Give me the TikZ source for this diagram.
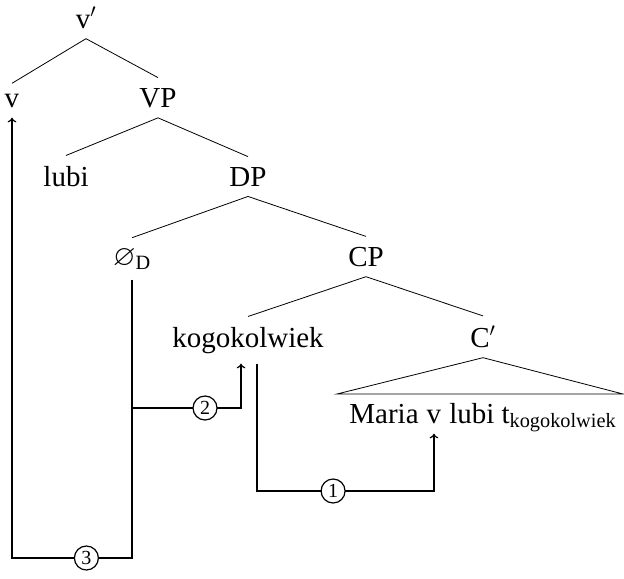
\documentclass[tikz,border=0pt]{standalone}
\usepackage{amsmath,amssymb}
\usepackage{fontspec}
\setmainfont{Liberation Serif}
\usetikzlibrary{positioning,arrows.meta}

\tikzset{every picture/.style={line width=0.6pt}}
\tikzset{
cat/.style={anchor=base, inner sep=7.5pt},
word/.style={anchor=base, inner xsep=0pt, inner ysep=7.5pt},
branch/.style={line width=0.6pt},
move/.style={line width=0.9pt, -{To[length=3.5pt,width=6.5pt]}},
num/.style={circle, draw, fill=white, line width=0.9pt, inner sep=0pt, minimum size=18pt, font=\fontsize{15}{15}\selectfont}}

\begin{document}
\fontsize{21.75}{26}\selectfont
\begin{tikzpicture}[x=0.75pt,y=0.75pt,yscale=-1,xscale=1]
\useasboundingbox (0,0) rectangle (624,578);

% Text Node
\node[cat] (vbar) at (86,28) {v$'$};
\node[cat] (v) at (12,107) {v};
\node[cat] (VP) at (158,107) {VP};
\node[cat] (lubi) at (66,186) {lubi};
\node[cat] (DP) at (248,186) {DP};
\node[cat] (nullD) at (132,265) {$\varnothing_{\text{D}}$};
\node[cat] (CP) at (366,266) {CP};
\node[cat] (kogo) at (248,347) {kogokolwiek};
\node[cat] (Cbar) at (483,347) {C$'$};

% Text Node: the clause under C'
\node[word, anchor=base west] (maria) at (349,423) {Maria};
\node[word, base right=0.25em of maria] (mv) {v};
\node[word, base right=0.25em of mv] (rest) {lubi t\textsubscript{kogokolwiek}};

% branches
\draw[branch] (vbar.south) -- (v.north);
\draw[branch] (vbar.south) -- (VP.north);
\draw[branch] (VP.south) -- (lubi.north);
\draw[branch] (VP.south) -- (DP.north);
\draw[branch] (DP.south) -- (nullD.north);
\draw[branch] (DP.south) -- (CP.north);
\draw[branch] (CP.south) -- (kogo.north);
\draw[branch] (CP.south) -- (Cbar.north);

%Shape: Triangle
\coordinate (baseL) at (337,394);
\coordinate (baseR) at (623,394);
\draw[branch] (baseL) -- (Cbar.south) -- (baseR) -- cycle;

% rows of the movement lines
\coordinate (row1) at (0,491);
\coordinate (row2) at (0,408);
\coordinate (row3) at (0,558);
\coordinate (k1) at ([xshift=6.75pt]kogo.south);
\coordinate (k2) at ([xshift=-5.25pt]kogo.south);

% move 1
\draw[move] (k1) -- (k1 |- row1) -- node[num,pos=0.43]{1} (mv |- row1) -- (mv.south);
% move 2
\draw[move] (nullD |- row2) -- node[num,pos=0.67]{2} (k2 |- row2) -- (k2);
% move 3
\draw[move] (nullD.south) -- (nullD |- row3) -- node[num,pos=0.38]{3} (v |- row3) -- (v.south);

\end{tikzpicture}
\end{document}
